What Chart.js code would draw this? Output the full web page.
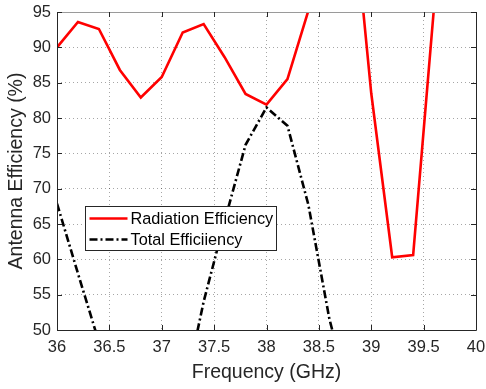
<!DOCTYPE html>
<html>
<head>
<meta charset="utf-8">
<script src="https://cdn.jsdelivr.net/npm/chart.js@4"></script>
<style>
  html, body { margin: 0; padding: 0; background: #fff; }
  #wrap { width: 486px; height: 389px; }
</style>
</head>
<body>
<div id="wrap"><canvas id="effChart" width="486" height="389"></canvas></div>
<script>
// Frequency points (GHz)
const freqs = [36, 36.2, 36.4, 36.6, 36.8, 37, 37.2, 37.4, 37.6, 37.8, 38, 38.2, 38.4, 38.6, 38.8, 39, 39.2, 39.4, 39.6, 39.8, 40];
// Radiation efficiency (%)
const radEff = [90, 93.6, 92.6, 86.8, 82.9, 85.8, 92.1, 93.3, 88.6, 83.4, 81.9, 85.5, 95.2, 102, 114, 83.5, 60.3, 60.6, 95.8, 100, 98];
// Total efficiency (%)
const totEff = [67.9, 58.0, 48.3, 42, 38, 37, 40, 54.0, 65.4, 76.2, 81.5, 78.9, 67.7, 51.6, 40, 32, 28, 27, 30, 34, 38];

const seriesNames = ["Radiation Efficiency", "Total Efficiiency"];
const xTicks = [36, 36.5, 37, 37.5, 38, 38.5, 39, 39.5, 40];
const yTicks = [50, 55, 60, 65, 70, 75, 80, 85, 90, 95];

const axisColor = '#262626';
const fontFamily = '"Liberation Sans", Arial, sans-serif';

function toPoints(ys) {
    return freqs.map((f, i) => ({ x: f, y: ys[i] }));
}

// Box, inward ticks and the inset legend
const framePlugin = {
    id: 'frame',
    afterDraw(chart) {
        const { ctx, chartArea: a, scales } = chart;
        ctx.save();
        ctx.lineWidth = 1;
        // axis lines
        ctx.strokeStyle = '#9a9a9a';
        ctx.beginPath();
        ctx.moveTo(a.left, a.top + 0.5);
        ctx.lineTo(a.right, a.top + 0.5);
        ctx.stroke();
        ctx.strokeStyle = axisColor;
        ctx.beginPath();
        ctx.moveTo(a.left + 0.5, a.top);
        ctx.lineTo(a.left + 0.5, a.bottom + 0.5);
        ctx.lineTo(a.right + 0.5, a.bottom + 0.5);
        ctx.lineTo(a.right + 0.5, a.top);
        ctx.stroke();

        // inward ticks
        const tl = 5;
        ctx.beginPath();
        xTicks.forEach(v => {
            const px = Math.round(scales.x.getPixelForValue(v)) + 0.5;
            ctx.moveTo(px, a.bottom);
            ctx.lineTo(px, a.bottom - tl);
            ctx.moveTo(px, a.top);
            ctx.lineTo(px, a.top + tl);
        });
        yTicks.forEach(v => {
            const py = Math.round(scales.y.getPixelForValue(v)) + 0.5;
            ctx.moveTo(a.left, py);
            ctx.lineTo(a.left + tl, py);
            ctx.moveTo(a.right, py);
            ctx.lineTo(a.right - tl, py);
        });
        ctx.stroke();

        // legend
        const bx = 85.5, by = 206.5, bw = 191, bh = 44;
        ctx.fillStyle = '#fff';
        ctx.fillRect(bx, by, bw, bh);
        ctx.strokeStyle = axisColor;
        ctx.strokeRect(bx, by, bw, bh);
        ctx.font = '16.3px ' + fontFamily;
        ctx.textBaseline = 'middle';
        chart.data.datasets.forEach((ds, i) => {
            const ry = by + 12 + i * 21;
            ctx.strokeStyle = ds.borderColor;
            ctx.lineWidth = ds.borderWidth;
            ctx.setLineDash(ds.borderDash || []);
            ctx.beginPath();
            ctx.moveTo(bx + 4, ry);
            ctx.lineTo(bx + 42, ry);
            ctx.stroke();
            ctx.setLineDash([]);
            ctx.fillStyle = '#000';
            ctx.fillText(ds.label, bx + 45, ry + 1);
        });
        ctx.restore();
    }
};

const ctx = document.getElementById('effChart').getContext('2d');
new Chart(ctx, {
    type: 'line',
    data: {
        datasets: [{
            label: seriesNames[0],
            data: toPoints(radEff),
            borderColor: '#ff0000',
            borderWidth: 2.6,
            pointRadius: 0,
            tension: 0,
            clip: 0
        }, {
            label: seriesNames[1],
            data: toPoints(totEff),
            borderColor: '#000000',
            borderWidth: 2.6,
            borderDash: [8, 3, 2, 3],
            pointRadius: 0,
            tension: 0,
            clip: 0
        }]
    },
    options: {
        responsive: false,
        animation: false,
        events: [],
        layout: { padding: { top: 12, right: 10, left: 0, bottom: 0 } },
        plugins: {
            legend: { display: false },
            tooltip: { enabled: false }
        },
        scales: {
            x: {
                type: 'linear',
                min: 36,
                max: 40,
                afterFit(scale) {
                    scale.height = 59;
                    scale.paddingLeft = 0;
                    scale.paddingRight = 0;
                },
                afterBuildTicks(scale) { scale.ticks = xTicks.map(v => ({ value: v })); },
                grid: { color: 'rgba(0,0,0,0.35)', drawTicks: false, lineWidth: 1 },
                border: { display: false, dash: [1, 3] },
                ticks: {
                    padding: 8,
                    color: axisColor,
                    font: { family: fontFamily, size: 16.5 },
                    maxRotation: 0,
                    autoSkip: false,
                    callback: v => String(v)
                },
                title: {
                    display: true,
                    text: 'Frequency (GHz)',
                    color: axisColor,
                    font: { family: fontFamily, size: 19.5 },
                    padding: { top: 0, bottom: 5 }
                }
            },
            y: {
                type: 'linear',
                min: 50,
                max: 95,
                afterFit(scale) {
                    scale.width = 57;
                    scale.paddingTop = 0;
                    scale.paddingBottom = 0;
                },
                afterBuildTicks(scale) { scale.ticks = yTicks.map(v => ({ value: v })); },
                grid: { color: 'rgba(0,0,0,0.35)', drawTicks: false, lineWidth: 1 },
                border: { display: false, dash: [1, 3] },
                ticks: {
                    padding: 6,
                    color: axisColor,
                    font: { family: fontFamily, size: 16.5 },
                    autoSkip: false,
                    callback: v => String(v)
                },
                title: {
                    display: true,
                    text: 'Antenna Efficiency (%)',
                    color: axisColor,
                    font: { family: fontFamily, size: 19.5 },
                    padding: { top: 5, bottom: 0 }
                }
            }
        }
    },
    plugins: [framePlugin]
});
</script>
</body>
</html>
